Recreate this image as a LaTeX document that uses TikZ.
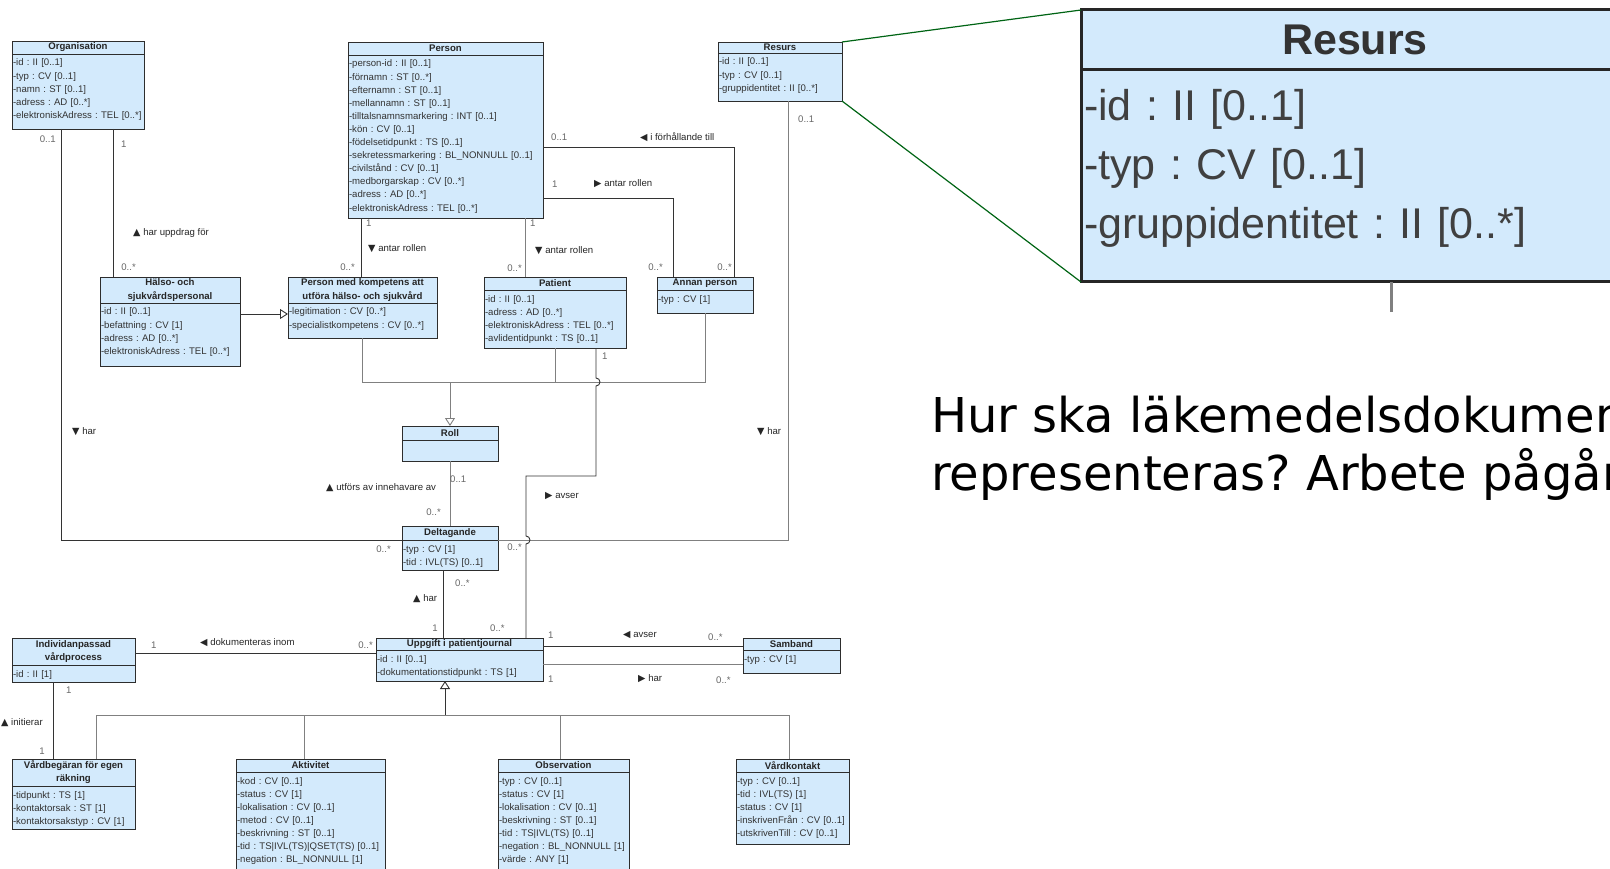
\documentclass[tikz,border=0pt]{standalone}
\usepackage{fontspec}
\setmainfont{Liberation Sans}
\newfontfamily\trifont{DejaVu Sans}
\newfontfamily\slidefont{DejaVu Sans}
\usetikzlibrary{positioning, arrows.meta, calc}
\frenchspacing

\definecolor{umlblue}{RGB}{211,234,252}
\definecolor{umledge}{RGB}{45,45,45}
\definecolor{zoomgreen}{RGB}{0,100,20}

\newcommand{\umlfont}{\fontsize{9.6}{13.1}\selectfont}
\newcommand{\umlstrut}{\rule{0pt}{10pt}}
\newcommand{\tiup}{{\trifont ▲}~}
\newcommand{\tidown}{{\trifont ▼}~}
\newcommand{\tileft}{{\trifont ◀}~}
\newcommand{\tiright}{{\trifont ▶}~}

\begin{document}
\begin{tikzpicture}[
  x=1pt, y=-1pt,
  umlhead/.style={draw=umledge, fill=umlblue, line width=0.9pt, font=\umlfont\bfseries, text=black!85,
    align=center, inner sep=0pt, outer sep=0pt, anchor=north west, minimum height=13pt},
  umlbody/.style={draw=umledge, fill=umlblue, line width=0.9pt, font=\umlfont, text=black!80,
    align=left, inner xsep=1pt, inner ysep=2pt, outer sep=0pt,
    below=0pt of #1, execute at begin node=\umlstrut},
  assoc/.style={draw=black!80, line width=0.9pt},
  gen/.style={draw=black!50, line width=0.9pt},
  genarrow/.style={gen, -{Triangle[open, length=8pt, width=10pt]}},
  mult/.style={font=\umlfont, text=black!60, inner sep=0pt},
  role/.style={font=\umlfont, text=black!85, inner sep=0pt},
  zoomline/.style={draw=zoomgreen, line width=1.2pt}
]
\useasboundingbox (0,0) rectangle (1610,869);

% Top row
\node[umlhead, minimum width=132pt] (org-h) at (12,41) {Organisation};
\node[umlbody=org-h, text width=130pt, text depth=61pt] (org-a)
  {-id : II [0..1]\\-typ : CV [0..1]\\-namn : ST [0..1]\\-adress : AD [0..*]\\-elektroniskAdress : TEL [0..*]};

\node[umlhead, minimum width=195pt] (per-h) at (348,42) {Person};
\node[umlbody=per-h, text width=193pt, text depth=149.2pt] (per-a)
  {-person-id : II [0..1]\\-förnamn : ST [0..*]\\-efternamn : ST [0..1]\\-mellannamn : ST [0..1]\\
   -tilltalsnamnsmarkering : INT [0..1]\\-kön : CV [0..1]\\-födelsetidpunkt : TS [0..1]\\
   -sekretessmarkering : BL\_NONNULL [0..1]\\-civilstånd : CV [0..1]\\-medborgarskap : CV [0..*]\\
   -adress : AD [0..*]\\-elektroniskAdress : TEL [0..*]};

\node[umlhead, minimum width=124pt, minimum height=11pt] (res-h) at (718,42) {Resurs};
\node[umlbody=res-h, text width=122pt, text depth=34pt] (res-a)
  {-id : II [0..1]\\-typ : CV [0..1]\\-gruppidentitet : II [0..*]};

% Roles
\node[umlhead, minimum width=140pt, minimum height=26pt] (hal-h) at (100,277) {Hälso- och\\sjukvårdspersonal};
\node[umlbody=hal-h, text width=138pt, text depth=49pt] (hal-a)
  {-id : II [0..1]\\-befattning : CV [1]\\-adress : AD [0..*]\\-elektroniskAdress : TEL [0..*]};

\node[umlhead, minimum width=149pt, minimum height=26pt] (pmk-h) at (288,277) {Person med kompetens att\\utföra hälso- och sjukvård};
\node[umlbody=pmk-h, text width=147pt, text depth=21pt] (pmk-a)
  {-legitimation : CV [0..*]\\-specialistkompetens : CV [0..*]};

\node[umlhead, minimum width=142pt] (pat-h) at (484,277) {Patient};
\node[umlbody=pat-h, text width=140pt, text depth=44pt] (pat-a)
  {-id : II [0..1]\\-adress : AD [0..*]\\-elektroniskAdress : TEL [0..*]\\-avlidentidpunkt : TS [0..1]};

\node[umlhead, minimum width=96pt] (ann-h) at (657,277) {Annan person};
\node[umlbody=ann-h, text width=94pt, text depth=9pt] (ann-a) {-typ : CV [1]};

\node[umlhead, minimum width=96pt, minimum height=14pt] (rol-h) at (402,426) {Roll};
\node[umlbody=rol-h, text width=94pt, minimum height=21pt] (rol-a) {};

\node[umlhead, minimum width=96pt, minimum height=14pt] (del-h) at (402,526) {Deltagande};
\node[umlbody=del-h, text width=94pt, text depth=16.2pt] (del-a) {-typ : CV [1]\\-tid : IVL(TS) [0..1]};

% Journal part
\node[umlhead, minimum width=167pt, minimum height=12pt] (upp-h) at (376,638) {Uppgift i patientjournal};
\node[umlbody=upp-h, text width=165pt, text depth=17pt] (upp-a)
  {-id : II [0..1]\\-dokumentationstidpunkt : TS [1]};

\node[umlhead, minimum width=97pt, minimum height=12pt] (sam-h) at (743,638) {Samband};
\node[umlbody=sam-h, text width=95pt, text depth=9.1pt] (sam-a) {-typ : CV [1]};

\node[umlhead, minimum width=123pt, minimum height=27pt] (ind-h) at (12,638) {Individanpassad\\vårdprocess};
\node[umlbody=ind-h, text width=121pt, text depth=3pt] (ind-a) {-id : II [1]};

\node[umlhead, minimum width=123pt, minimum height=27pt] (vbg-h) at (12,759) {Vårdbegäran för egen\\räkning};
\node[umlbody=vbg-h, text width=121pt, text depth=29.3pt] (vbg-a)
  {-tidpunkt : TS [1]\\-kontaktorsak : ST [1]\\-kontaktorsakstyp : CV [1]};

\node[umlhead, minimum width=149pt] (akt-h) at (236,759) {Aktivitet};
\node[umlbody=akt-h, text width=147pt, text depth=93.6pt] (akt-a)
  {-kod : CV [0..1]\\-status : CV [1]\\-lokalisation : CV [0..1]\\-metod : CV [0..1]\\
   -beskrivning : ST [0..1]\\-tid : TS|IVL(TS)|QSET(TS) [0..1]\\-negation : BL\_NONNULL [1]};

\node[umlhead, minimum width=131pt] (obs-h) at (498,759) {Observation};
\node[umlbody=obs-h, text width=129pt, text depth=93.6pt] (obs-a)
  {-typ : CV [0..1]\\-status : CV [1]\\-lokalisation : CV [0..1]\\-beskrivning : ST [0..1]\\
   -tid : TS|IVL(TS) [0..1]\\-negation : BL\_NONNULL [1]\\-värde : ANY [1]};

\node[umlhead, minimum width=113pt] (vkt-h) at (736,759) {Vårdkontakt};
\node[umlbody=vkt-h, text width=111pt, text depth=58pt] (vkt-a)
  {-typ : CV [0..1]\\-tid : IVL(TS) [1]\\-status : CV [1]\\-inskrivenFrån : CV [0..1]\\-utskrivenTill : CV [0..1]};

% Associations
\coordinate (org-out1) at ([xshift=49pt]org-a.south west);
\coordinate (org-out2) at ([xshift=101pt]org-a.south west);
\draw[assoc] (org-out1) |- (del-h.south west);
\draw[assoc] (org-out2) -- (org-out2 |- hal-h.north);

\coordinate (hal-gen) at ([yshift=-11pt]hal-a.north east);
\draw[genarrow, draw=black!80] (hal-gen) -- (hal-gen -| pmk-a.west);

\coordinate (per-out1) at ([xshift=13pt]per-a.south west);
\coordinate (per-out2) at ([xshift=177pt]per-a.south west);
\draw[assoc] (per-out1) -- (per-out1 |- pmk-h.north);
\draw[gen] (per-out2) -- (per-out2 |- pat-h.north);

\coordinate (per-out3) at ([yshift=-92pt]per-a.north east);
\coordinate (per-out4) at ([yshift=-143pt]per-a.north east);
\coordinate (ann-in1) at ([xshift=-19pt]ann-h.north east);
\coordinate (ann-in2) at ([xshift=16pt]ann-h.north west);
\draw[assoc] (per-out3) -| (ann-in1);
\draw[assoc] (per-out4) -| (ann-in2);

\coordinate (res-out) at ([xshift=70pt]res-a.south west);
\draw[gen] (res-out) |- (del-h.south east);

% Roll generalisation
\coordinate (rol-hub) at ([yshift=44pt]rol-h.north);
\draw[genarrow] (rol-hub) -- (rol-h.north);
\draw[gen] (pmk-a.south) |- (rol-hub);
\draw[gen] (pat-a.south) |- (rol-hub);
\draw[gen] (ann-a.south) |- (rol-hub);

% Patient -- Uppgift, hopping over two lines
\coordinate (pat-out) at ([xshift=112pt]pat-a.south west);
\coordinate (upp-in) at ([xshift=150pt]upp-h.north west);
\draw[assoc] (pat-out) -- ($(pat-out |- rol-hub)+(0,-4)$)
  arc[start angle=90, end angle=-90, radius=4pt] -- ++(0,90)
  -| ($(upp-in |- del-h.south east)+(0,-4)$)
  arc[start angle=90, end angle=-90, radius=4pt] -- (upp-in);

\draw[gen] (rol-a.south) -- (del-h.north);
\coordinate (del-out) at ([xshift=41pt]del-a.south west);
\draw[assoc] (del-out) -- (del-out |- upp-h.north);

\coordinate (upp-out1) at ([yshift=-8pt]upp-h.north east);
\coordinate (upp-out2) at ([yshift=-14pt]upp-a.north east);
\draw[assoc] (upp-out1) -- (upp-out1 -| sam-h.west);
\draw[gen] (upp-out2) -- (upp-out2 -| sam-a.west);

\coordinate (ind-out1) at ([yshift=-15pt]ind-h.north east);
\coordinate (ind-out2) at ([xshift=41pt]ind-a.south west);
\draw[assoc] (ind-out1) -- (ind-out1 -| upp-a.west);
\draw[assoc] (ind-out2) -- (ind-out2 |- vbg-h.north);

% Uppgift generalisation
\coordinate (upp-gen) at ([xshift=69pt]upp-a.south west);
\coordinate (upp-hub) at ([yshift=-34pt]upp-gen);
\draw[genarrow, draw=black!80] (upp-hub) -- (upp-gen);
\foreach \cls/\dx in {vbg/84, akt/68, obs/62, vkt/53}
  \draw[gen] ([xshift=\dx pt]\cls-h.north west) |- (upp-hub);

% Multiplicities
\node[mult, anchor=east] (m-org1) at (56,139) {0..1};
\node[mult, anchor=west] (m-org2) at (121,144) {1};
\node[mult, anchor=east] (m-hal) at (136,267) {0..*};
\node[mult, anchor=east] (m-pmk) at (355,267) {0..*};
\node[mult, anchor=west] (m-per1) at (366,223) {1};
\node[mult, anchor=west] (m-per2) at (530,223) {1};
\node[mult, anchor=east] (m-pat1) at (522,268) {0..*};
\node[mult, anchor=west] (m-per3) at (551,137) {0..1};
\node[mult, anchor=west] (m-per4) at (552,184) {1};
\node[mult, anchor=east] (m-ann2) at (663,267) {0..*};
\node[mult, anchor=east] (m-ann1) at (732,267) {0..*};
\node[mult, anchor=west] (m-res) at (798,119) {0..1};
\node[mult, anchor=west] (m-pat2) at (602,356) {1};
\node[mult, anchor=west] (m-rol) at (450,479) {0..1};
\node[mult, anchor=east] (m-del1) at (441,512) {0..*};
\node[mult, anchor=east] (m-del2) at (391,549) {0..*};
\node[mult, anchor=east] (m-del3) at (522,547) {0..*};
\node[mult, anchor=west] (m-del4) at (455,583) {0..*};
\node[mult, anchor=east] (m-upp1) at (438,628) {1};
\node[mult, anchor=west] (m-upp2) at (490,628) {0..*};
\node[mult, anchor=east] (m-upp3) at (373,645) {0..*};
\node[mult, anchor=west] (m-ind1) at (151,645) {1};
\node[mult, anchor=west] (m-ind2) at (66,690) {1};
\node[mult, anchor=east] (m-vbg) at (45,751) {1};
\node[mult, anchor=west] (m-upp4) at (548,635) {1};
\node[mult, anchor=west] (m-sam1) at (708,637) {0..*};
\node[mult, anchor=west] (m-upp5) at (548,679) {1};
\node[mult, anchor=west] (m-sam2) at (716,680) {0..*};

% Association names
\node[role, anchor=west] (r-uppdrag) at (133,233) {\tiup har uppdrag för};
\node[role, anchor=west] (r-antar1) at (368,249) {\tidown antar rollen};
\node[role, anchor=west] (r-antar2) at (535,251) {\tidown antar rollen};
\node[role, anchor=west] (r-forh) at (640,137) {\tileft i förhållande till};
\node[role, anchor=west] (r-antar3) at (594,184) {\tiright antar rollen};
\node[role, anchor=west] (r-har1) at (757,432) {\tidown har};
\node[role, anchor=west] (r-har2) at (72,432) {\tidown har};
\node[role, anchor=west] (r-avser1) at (545,496) {\tiright avser};
\node[role, anchor=west] (r-utfors) at (326,488) {\tiup utförs av innehavare av};
\node[role, anchor=west] (r-har3) at (413,599) {\tiup har};
\node[role, anchor=west] (r-dok) at (200,643) {\tileft dokumenteras inom};
\node[role, anchor=west] (r-init) at (1,723) {\tiup initierar};
\node[role, anchor=west] (r-avser2) at (623,635) {\tileft avser};
\node[role, anchor=west] (r-har4) at (638,679) {\tiright har};

% Zoomed Resurs
\node[umlhead, line width=3pt, draw=black!85, minimum width=548pt, minimum height=60pt,
  font=\fontsize{43}{59}\selectfont\bfseries, text=black!80] (zres-h) at (1081,10) {Resurs};
\node[umlbody=zres-h, line width=3pt, draw=black!85, text width=542pt, inner xsep=3pt, inner ysep=6pt,
  font=\fontsize{43}{59}\selectfont, text=black!75, text depth=155pt,
  execute at begin node=\rule{0pt}{45pt}] (zres-a)
  {-id : II [0..1]\\-typ : CV [0..1]\\-gruppidentitet : II [0..*]};
\draw[zoomline] (res-h.north east) -- (zres-h.north west);
\draw[zoomline] (res-a.south east) -- (zres-a.south west);
\coordinate (zres-out) at ([xshift=310pt]zres-a.south west);
\draw[gray, line width=3pt] (zres-out) -- ++(0,30);

% Question
\node[font=\slidefont\fontsize{48}{57}\selectfont, anchor=base west, inner sep=0pt] (q1) at (931,432) {Hur ska läkemedelsdokumentation};
\node[font=\slidefont\fontsize{48}{57}\selectfont, anchor=base west, inner sep=0pt] (q2) at (931,490) {representeras? Arbete pågår};

\end{tikzpicture}
\end{document}
